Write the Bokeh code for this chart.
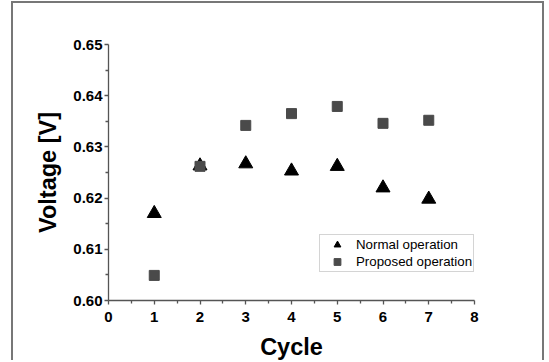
from bokeh.plotting import figure
from bokeh.models import Range1d, Legend, LegendItem, FixedTicker, ColumnDataSource
from bokeh.embed import file_html
from bokeh.resources import INLINE

cycles = [1, 2, 3, 4, 5, 6, 7]
normal_operation = [0.6170, 0.6263, 0.6267, 0.6253, 0.6262, 0.6220, 0.6198]
proposed_operation = [0.6049, 0.6262, 0.6342, 0.6365, 0.6379, 0.6346, 0.6352]
x_ticks = [0, 1, 2, 3, 4, 5, 6, 7, 8]
y_ticks = [0.60, 0.61, 0.62, 0.63, 0.64, 0.65]
x_minor = [0.5, 1.5, 2.5, 3.5, 4.5, 5.5, 6.5, 7.5]
y_minor = [0.605, 0.615, 0.625, 0.635, 0.645]

FONT = "Liberation Sans"

p = figure(width=533, height=359, output_backend="svg", toolbar_location=None,
           x_range=Range1d(0, 8), y_range=Range1d(0.60, 0.65),
           min_border_left=95, min_border_right=72, min_border_top=41, min_border_bottom=58)
p.styles = {"margin-left": "11px", "margin-top": "1px",
            "border-left": "2px solid #777777", "border-top": "2px solid #777777",
            "border-right": "2px solid #777777"}
p.grid.visible = False
p.outline_line_color = None

src_n = ColumnDataSource(dict(x=cycles, y=normal_operation))
src_p = ColumnDataSource(dict(x=cycles, y=proposed_operation))
r_n = p.scatter("x", "y", source=src_n, marker="triangle", size=14,
                fill_color="black", line_color="black")
r_p = p.scatter("x", "y", source=src_p, marker="square", size=10,
                fill_color="#4a4a4a", line_color="#4a4a4a")

for ax in (p.xaxis[0], p.yaxis[0]):
    ax.axis_line_color = "#555555"
    ax.axis_line_width = 1.3
    ax.major_tick_line_color = "#555555"
    ax.minor_tick_line_color = "#555555"
    ax.major_tick_line_width = 1.3
    ax.minor_tick_line_width = 1.3
    ax.major_tick_in = 0
    ax.major_tick_out = 4
    ax.minor_tick_in = 0
    ax.minor_tick_out = 3
    ax.major_label_text_font = FONT
    ax.major_label_text_font_style = "bold"
    ax.major_label_text_font_size = "15px"
    ax.major_label_text_color = "black"
    ax.axis_label_text_font = FONT
    ax.axis_label_text_font_style = "bold"
    ax.axis_label_text_font_size = "23.5px"
    ax.axis_label_text_color = "black"

p.xaxis[0].ticker = FixedTicker(ticks=x_ticks, minor_ticks=x_minor)
p.yaxis[0].ticker = FixedTicker(ticks=y_ticks, minor_ticks=y_minor)
p.yaxis[0].major_label_overrides = {v: f"{v:.2f}" for v in y_ticks}
p.xaxis[0].axis_label = "Cycle"
p.yaxis[0].axis_label = "Voltage [V]"
p.xaxis[0].major_label_standoff = 7
p.xaxis[0].axis_label_standoff = 9
p.yaxis[0].major_label_standoff = 2
p.yaxis[0].axis_label_standoff = 9

legend = Legend(items=[LegendItem(label="Normal operation", renderers=[r_n]),
                       LegendItem(label="Proposed operation", renderers=[r_p])],
                location=(211, 28), orientation="vertical",
                label_text_font=FONT, label_text_font_size="13.3px", label_text_color="black",
                glyph_width=32, glyph_height=17, label_height=17, spacing=-3,
                padding=1, margin=0, label_standoff=3,
                border_line_color="#aaaaaa", border_line_width=1,
                background_fill_color="white", background_fill_alpha=1)
p.add_layout(legend)

open("out.html", "w").write(file_html(p, INLINE))
